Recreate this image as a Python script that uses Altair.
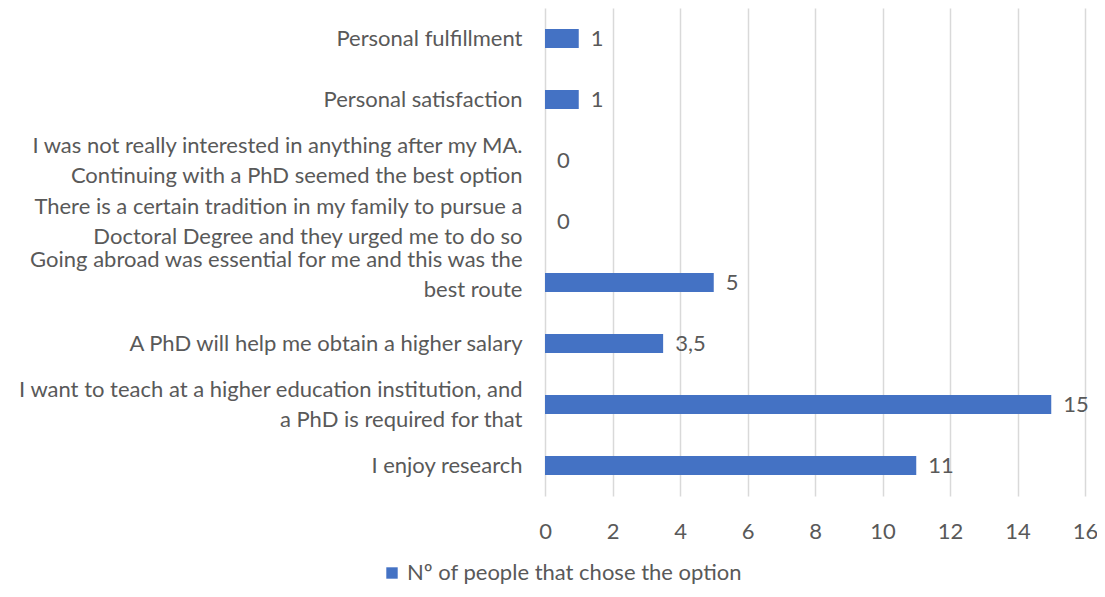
import altair as alt
import pandas as pd

categories = [
    "Personal fulfillment",
    "Personal satisfaction",
    "I was not really interested in anything after my MA.|Continuing with a PhD seemed the best option",
    "There is a certain tradition in my family to pursue a|Doctoral Degree and they urged me to do so",
    "Going abroad was essential for me and this was the|best route",
    "A PhD will help me obtain a higher salary",
    "I want to teach at a higher education institution, and|a PhD is required for that",
    "I enjoy research",
]
values = [1, 1, 0, 0, 5, 3.5, 15, 11]
series_name = "Nº of people that chose the option"
x_ticks = [0, 2, 4, 6, 8, 10, 12, 14, 16]

labels = [(f"{v:g}").replace(".", ",") for v in values]
df = pd.DataFrame({"cat": categories, "value": values, "label": labels, "series": series_name})

FONT = "Lato"
FS = 22
TXT = "#595959"
BLUE = "#4472C4"

y_enc = alt.Y(
    "cat:N",
    sort=categories,
    scale=alt.Scale(paddingInner=0.0, paddingOuter=0.0),
    axis=alt.Axis(
        title=None, domain=False, ticks=False, labelPadding=23,
        labelExpr="split(datum.value, '|')", labelLineHeight=30,
        labelFont=FONT, labelFontSize=FS, labelColor=TXT, labelLimit=700,
        labelAlign="right", labelBaseline="middle",
        labelOffset={
            "condition": [
                {"test": "indexof(datum.value, 'Going') == 0", "value": -23},
                {"test": "indexof(datum.value, '|') >= 0", "value": -15},
            ],
            "value": 0,
        },
    ),
)
x_enc = alt.X(
    "value:Q",
    scale=alt.Scale(domain=[0, 16], nice=False),
    axis=alt.Axis(
        title=None, values=x_ticks, domain=False, ticks=False, labelPadding=25,
        labelFont=FONT, labelFontSize=FS, labelColor=TXT, grid=True,
        gridColor="#D9D9D9", gridWidth=1.5, labelFlush=False,
    ),
)

bars = alt.Chart(df).mark_bar(size=19).encode(
    y=y_enc, x=x_enc,
    color=alt.Color(
        "series:N", scale=alt.Scale(range=[BLUE]),
        legend=alt.Legend(
            title=None, orient="none", legendX=-164, legendY=554,
            symbolType="square", symbolSize=130, symbolStrokeWidth=0,
            labelFont=FONT, labelFontSize=FS, labelColor=TXT, labelLimit=700,
            symbolOpacity=1,
        ),
    ),
)
text = alt.Chart(df).mark_text(
    align="left", baseline="middle", dx=12, font=FONT, fontSize=FS, color=TXT
).encode(y=alt.Y("cat:N", sort=categories), x="value:Q", text="label:N")

chart = (bars + text).properties(
    width=540, height=488,
    autosize=alt.AutoSizeParams(type="none"),
    padding={"left": 537, "top": 0, "right": 12, "bottom": 92},
).configure_view(stroke=None)

chart.save("out.html", embed_options={"renderer": "svg", "actions": False})
